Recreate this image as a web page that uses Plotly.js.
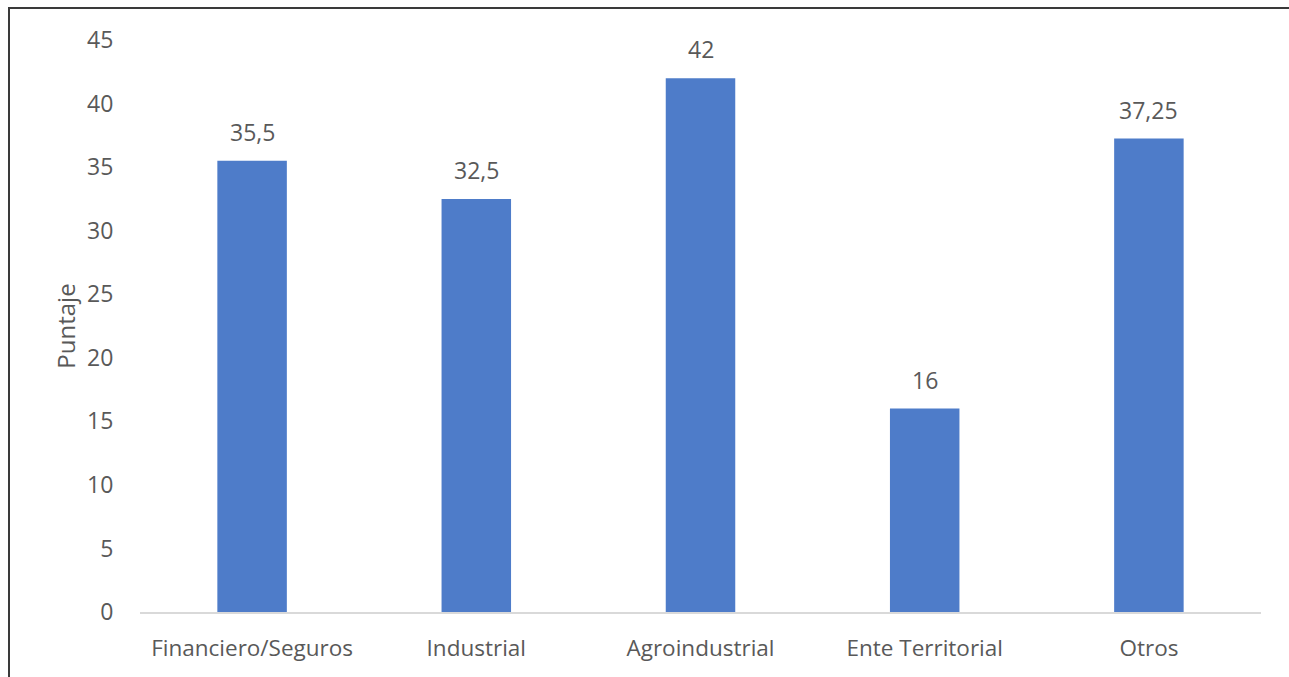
<!DOCTYPE html>
<html>
<head>
<meta charset="utf-8">
<script src="https://cdn.plot.ly/plotly-3.0.1.min.js"></script>
<style>
html,body{margin:0;padding:0;background:#fff;}
#wrap{position:relative;width:1289px;height:677px;overflow:hidden;}
#chart{position:absolute;left:0;top:0;width:1289px;height:677px;}
#frame{position:absolute;left:8px;top:7px;width:1300px;height:700px;border-left:2px solid #3a3a3a;border-top:2px solid #3a3a3a;pointer-events:none;}
</style>
</head>
<body>
<div id="wrap"><div id="chart"></div><div id="frame"></div></div>
<script>
const categories = ["Financiero/Seguros", "Industrial", "Agroindustrial", "Ente Territorial", "Otros"];
const values = [35.5, 32.5, 42, 16, 37.25];
const yTicks = [0, 5, 10, 15, 20, 25, 30, 35, 40, 45];

const fontFam = "'Open Sans', 'Noto Sans', sans-serif";
const grey = "#595959";

const trace = {
  type: "bar",
  x: categories,
  y: values,
  marker: {color: "#4e7cc9"},
  hoverinfo: "none"
};

const annotations = categories.map((c, i) => ({
  x: c, y: values[i], xref: "x", yref: "y",
  text: String(values[i]).replace(".", ","),
  showarrow: false, yanchor: "bottom", yshift: 11,
  font: {family: fontFam, size: 23, color: grey}
}));

const layout = {
  width: 1289, height: 677,
  margin: {l: 140, r: 28, t: 40, b: 65},
  paper_bgcolor: "#fff", plot_bgcolor: "#fff",
  bargap: 0.69,
  separators: ",.",
  showlegend: false,
  xaxis: {
    type: "category",
    showgrid: false, zeroline: false, showline: true,
    linecolor: "#d9d9d9", linewidth: 2,
    ticks: "outside", ticklen: 15, tickcolor: "rgba(0,0,0,0)",
    tickfont: {family: fontFam, size: 22.5, color: grey}
  },
  yaxis: {
    range: [0, 45], tickvals: yTicks, ticktext: yTicks.map(String),
    showgrid: false, zeroline: false, showline: false,
    ticks: "outside", ticklen: 21, tickcolor: "rgba(0,0,0,0)",
    tickfont: {family: fontFam, size: 23, color: grey},
    title: {text: "Puntaje", standoff: 4, font: {family: fontFam, size: 24, color: grey}}
  },
  annotations: annotations
};

Plotly.newPlot("chart", [trace], layout, {displayModeBar: false, staticPlot: true});
</script>
</body>
</html>
